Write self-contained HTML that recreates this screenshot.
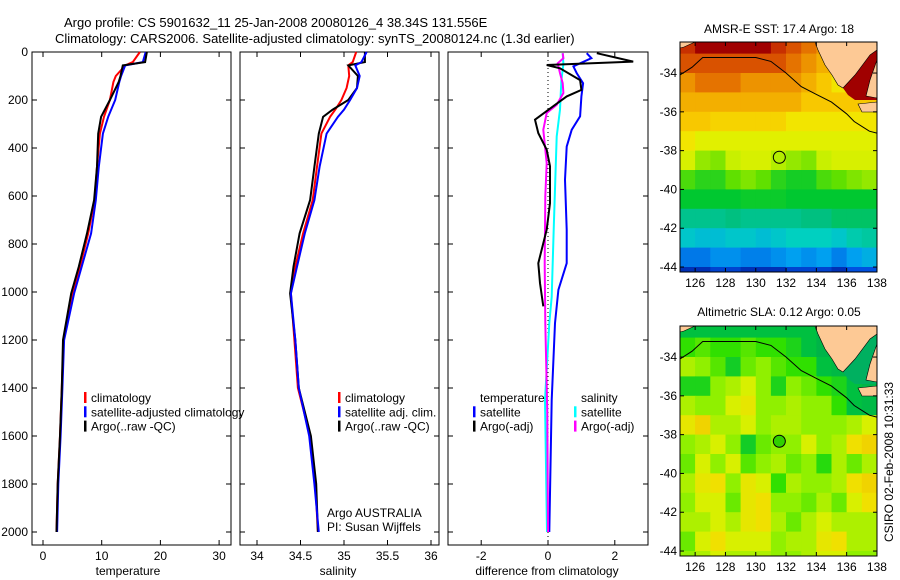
<!DOCTYPE html>
<html><head><meta charset="utf-8"><style>
body{margin:0;background:#fff;}
svg{display:block;font-family:"Liberation Sans",sans-serif;}
text{fill:#000;}
</style></head><body>
<svg id="fig" width="900" height="580" viewBox="0 0 900 580" xmlns="http://www.w3.org/2000/svg">
<text x="64" y="27" font-size="13">Argo profile: CS 5901632_11 25-Jan-2008 20080126_4 38.34S 131.556E</text>
<text x="55" y="43" font-size="13">Climatology: CARS2006. Satellite-adjusted climatology: synTS_20080124.nc (1.3d earlier)</text>
<text x="779" y="33" font-size="12" text-anchor="middle">AMSR-E SST: 17.4 Argo: 18</text>
<text x="779" y="316" font-size="12" text-anchor="middle">Altimetric SLA: 0.12 Argo: 0.05</text>
<text x="0" y="0" font-size="12" text-anchor="middle" transform="translate(893,462) rotate(-90)">CSIRO 02-Feb-2008 10:31:33</text>
<g id="plots"></g>
</svg>
<script>
// ---- data ----
const depthT = [0,42,56,100,125,200,270,340,478,617,756,894,1006,1200,1400,1600,1800,2000];
const tempClim = [16.5,15.3,14.0,12.4,12.0,11.4,10.4,9.7,9.2,8.8,7.7,6.3,5.1,3.5,3.2,2.9,2.5,2.3];
const tempSat  = [17.5,17.0,14.0,13.3,13.0,12.3,11.1,10.2,9.5,9.0,8.2,6.6,5.3,3.6,3.3,3.0,2.6,2.4];
const tempArgo = [17.7,17.4,13.6,13.2,12.9,11.4,9.9,9.4,9.2,8.7,7.5,6.1,4.8,3.4,3.2,2.9,2.5,2.3];
const depthS = [0,42,56,100,150,200,240,270,340,478,617,756,894,1006,1200,1400,1600,1800,2000];
const salClim = [35.14,35.10,35.05,35.06,35.03,34.97,34.90,34.84,34.74,34.69,34.64,34.53,34.44,34.39,34.43,34.47,34.61,34.67,34.70];
const salSat  = [35.26,35.20,35.13,35.18,35.15,35.07,35.00,34.93,34.80,34.72,34.66,34.55,34.46,34.39,34.44,34.48,34.60,34.66,34.71];
const salArgo = [35.24,35.24,35.05,35.16,35.15,35.05,34.87,34.76,34.71,34.66,34.61,34.49,34.42,34.38,34.44,34.48,34.62,34.68,34.70];
const dTempSatDepth = [5,26,60,88,130,185,268,324,394,532,740,880,991,1130,1450,2000];
const dTempSat = [1.16,1.30,0.76,0.86,1.05,1.00,0.96,0.71,0.56,0.51,0.56,0.56,0.31,0.21,0.11,0.04];
const dTempArgoDepth = [5,40,54,68,117,158,185,226,282,338,407,476,630,740,880,963,1060];
const dTempArgo = [1.46,2.55,-0.04,0.36,0.96,1.00,0.56,0.16,-0.39,-0.29,-0.04,0.06,0.06,-0.04,-0.29,-0.24,-0.14];
const dSalSatDepth = [5,50,117,240,352,532,740,1020,1130,1450,2000];
const dSalSat = [0.44,0.46,0.40,0.36,0.26,0.22,0.17,0.11,0.04,-0.09,-0.03];
const dSalArgoDepth = [5,26,47,88,130,171,220,254,324,463,602,880,1130,1500,2000];
const dSalArgo = [0.44,0.46,0.29,0.36,0.44,0.46,0.26,-0.04,-0.14,-0.04,-0.08,-0.10,-0.08,-0.02,0.0];
const depthTicks = [0,200,400,600,800,1000,1200,1400,1600,1800,2000];
const tempTicks = [0,10,20,30];
const salTicks = [34,34.5,35,35.5,36];
const salTickLabels = ["34","34.5","35","35.5","36"];
const diffTicks = [-2,0,2];
const mapLon = [125.5,126.5,127.5,128.5,129.5,130.5,131.5,132.5,133.5,134.5,135.5,136.5,137.5];
const mapLat = [-32.5,-33.5,-34.5,-35.5,-36.5,-37.5,-38.5,-39.5,-40.5,-41.5,-42.5,-43.5,-44.5];
const sstGrid = [
[21.5,22,22,22,22,22,21.5,21,20.5,20,20,22,22],
[21,21,21,21,21,21,21,20.5,20,19.5,19,22,22],
[20,20.5,20.5,20.5,20,20,20,20,19.5,19,18.5,22,21],
[19.5,19.5,19.5,19.5,19.5,19.5,19.5,19.5,19,19,19,19,19],
[19,19,18.8,18.8,18.8,18.8,18.8,18.5,18.5,18.5,18.5,18.5,18.5],
[18.5,18,18,18,18,18,18,18,18,18,18,18,18],
[17.8,17,16.8,17.5,17.8,17.8,17.3,17,16.8,17.5,17.8,17.8,17.8],
[16.3,16,16,16.5,16.8,16.5,16,15.8,15.8,16.3,16.5,16.8,17],
[15.6,15.6,15.6,15.6,15.7,15.7,15.7,15.6,15.6,15.6,15.6,15.6,15.6],
[14.8,14.8,14.8,15,14.8,14.8,14.8,14.8,15,15,15.2,15.2,15.2],
[13.8,13.6,13.6,13.8,13.8,13.6,13.8,14,14,14,13.8,14.3,14.5],
[12.5,12.5,12.8,12.8,12.6,12.6,12.8,13,12.8,13,12.6,13,13.3],
[11.5,11.5,11.8,11.8,11.5,11.5,11.5,11.8,11.8,11.8,11.5,12,12]];
const slaGrid = [
[0,0,0,0,0,0,0,0,0,-0.05,-0.05,-0.1,-0.1],
[0.05,0.07,0.05,0.05,0.07,0.05,0.05,0.03,0,-0.05,-0.05,-0.1,-0.1],
[0.12,0.1,0.07,0.02,0.08,0.1,0.07,0.05,0.05,0,-0.03,-0.05,-0.1],
[0.03,0.03,0.1,0.12,0.15,0.1,0.03,0.1,0.08,0.05,0.03,0,-0.05],
[0.12,0.1,0.1,0.15,0.18,0.1,0.1,0.12,0.1,0.1,0.05,0,-0.03],
[0.18,0.22,0.12,0.12,0.15,0.1,0.12,0.12,0.1,0.1,0.1,0.12,0.15],
[0.1,0.12,0.15,0.1,0.02,0.08,0.1,0.1,0.15,0.1,0.12,0.2,0.22],
[0.08,0.15,0.1,0.15,0.07,0.1,0.12,0.08,0.1,0.04,0.12,0.08,0.12],
[0.12,0.18,0.2,0.1,0.18,0.15,0.05,0.12,0.1,0.1,0.12,0.2,0.22],
[0.1,0.15,0.15,0.08,0.18,0.2,0.1,0.1,0.08,0.12,0.08,0.15,0.2],
[0.12,0.12,0.15,0.12,0.18,0.2,0.12,0.08,0.12,0.15,0.12,0.12,0.12],
[0.08,0.15,0.2,0.15,0.15,0.15,0.1,0.12,0.12,0.18,0.2,0.12,0.12],
[0.1,0.12,0.15,0.12,0.12,0.12,0.1,0.1,0.12,0.15,0.15,0.1,0.1]];
const argoLon = 131.556, argoLat = -38.34;

const NS="http://www.w3.org/2000/svg";
const root=document.getElementById('plots');
function mk(tag,attrs,parent){const e=document.createElementNS(NS,tag);for(const k in attrs)e.setAttribute(k,attrs[k]);(parent||root).appendChild(e);return e;}
function txt(s,attrs,parent){const e=mk('text',attrs,parent);e.textContent=s;return e;}

const PT=52, PB=545;
const yD = d => PT + d*0.24;
function panel(name,x0,x1,xs,ticks,labels,xlabel,xlabelX,showY){
  const g=mk('g',{});
  
  
  const box=mk('rect',{x:x0,y:PT,width:x1-x0,height:PB-PT,fill:'none',stroke:'#000','stroke-width':1},g);
  
  
  depthTicks.forEach(d=>{
    const y=yD(d);
    mk('line',{x1:x0,x2:x0+5,y1:y,y2:y,stroke:'#000'},g);
    mk('line',{x1:x1-5,x2:x1,y1:y,y2:y,stroke:'#000'},g);
    if(showY){const t=txt(String(d),{x:x0-4,y:y+4,'font-size':12,'text-anchor':'end'},g);
      
      }
  });
  ticks.forEach((v,i)=>{
    const x=xs(v);
    mk('line',{x1:x,x2:x,y1:PB,y2:PB-5,stroke:'#000'},g);
    mk('line',{x1:x,x2:x,y1:PT,y2:PT+5,stroke:'#000'},g);
    const t=txt(labels[i],{x:x,y:PB+15,'font-size':12,'text-anchor':'middle'},g);
    
    
  });
  const xl=txt(xlabel,{x:xlabelX,y:PB+30,'font-size':12,'text-anchor':'middle'},g);
  
  
  return g;
}
function line(g,xs,vals,depths,color,name){
  const pts=vals.map((v,i)=>xs(v).toFixed(1)+','+yD(depths[i]).toFixed(1)).join(' ');
  const p=mk('polyline',{points:pts,fill:'none',stroke:color,'stroke-width':2,'stroke-linejoin':'miter'},g);
  
  
}
function legend(g,x,y,items){
  items.forEach((it,i)=>{
    const yy=y+i*14.3;
    if(it[1]) mk('rect',{x:x,y:yy-10,width:2.5,height:11,fill:it[1]},g);
    const t=txt(it[0],{x:x+7,y:yy,'font-size':12},g);
    
    
  });
}
// panel 1
const xT=v=>43+5.87*v;
const g1=panel('temperature-panel',32,231,xT,tempTicks,tempTicks.map(String),'temperature',128,true);
line(g1,xT,tempClim,depthT,'#ff0000','temp-climatology-line');
line(g1,xT,tempSat,depthT,'#0000ff','temp-satellite-line');
line(g1,xT,tempArgo,depthT,'#000000','temp-argo-line');
legend(g1,84,402,[['climatology','#ff0000'],['satellite-adjusted climatology','#0000ff'],['Argo(..raw -QC)','#000']]);
// panel 2
const xS=v=>257+87*(v-34);
const g2=panel('salinity-panel',240,439,xS,salTicks,salTickLabels,'salinity',338,false);
line(g2,xS,salClim,depthS,'#ff0000','sal-climatology-line');
line(g2,xS,salArgo,depthS,'#000000','sal-argo-line');
line(g2,xS,salSat,depthS,'#0000ff','sal-satellite-line');
legend(g2,338,402,[['climatology','#ff0000'],['satellite adj. clim.','#0000ff'],['Argo(..raw -QC)','#000']]);
const a1=txt('Argo AUSTRALIA',{x:327,y:517,'font-size':12},g2);


const a2=txt('PI: Susan Wijffels',{x:327,y:531,'font-size':12},g2);


// panel 3
const xDf=v=>548+33.4*v;
const g3=panel('difference-panel',448,648,xDf,diffTicks,diffTicks.map(String),'difference from climatology',547,false);
mk('line',{x1:xDf(0),x2:xDf(0),y1:PT,y2:PB,stroke:'#000','stroke-dasharray':'1,3'},g3);
line(g3,xDf,dTempSat,dTempSatDepth,'#0000ff','diff-temp-satellite-line');
line(g3,xDf,dSalSat,dSalSatDepth,'#00ffff','diff-sal-satellite-line');
line(g3,xDf,dSalArgo,dSalArgoDepth,'#ff00ff','diff-sal-argo-line');
line(g3,xDf,dTempArgo,dTempArgoDepth,'#000000','diff-temp-argo-line');
legend(g3,473,402,[['temperature',null],['satellite','#0000ff'],['Argo(-adj)','#000']]);
legend(g3,574,402,[['salinity',null],['satellite','#00ffff'],['Argo(-adj)','#ff00ff']]);

// maps
function hex(c){return [parseInt(c.slice(1,3),16),parseInt(c.slice(3,5),16),parseInt(c.slice(5,7),16)];}
function cmap(stops,v){
  if(v<=stops[0][0])return stops[0][1];
  for(let i=1;i<stops.length;i++){if(v<=stops[i][0]){const a=hex(stops[i-1][1]),b=hex(stops[i][1]);const t=(v-stops[i-1][0])/(stops[i][0]-stops[i-1][0]);
    return 'rgb('+a.map((x,k)=>Math.round(x+(b[k]-x)*t)).join(',')+')';}}
  return stops[stops.length-1][1];
}
const sstStops=[[11,'#00108a'],[12,'#0050e0'],[13,'#00a0f0'],[14,'#00d0c0'],[15,'#00c080'],[15.6,'#00c830'],[16.5,'#60e000'],[17.5,'#c8f000'],[18.3,'#f0f000'],[19,'#f8c800'],[19.8,'#f0a000'],[20.8,'#e06000'],[21.5,'#c83000'],[22,'#a00000']];
const slaStops=[[-0.1,'#00a850'],[0,'#00c040'],[0.05,'#30e000'],[0.1,'#90f000'],[0.15,'#d8f000'],[0.2,'#f0e000'],[0.25,'#f0c000']];
const MX0=680,MX1=877,MH=230;
const lonX=lon=>MX0+(lon-125)*15.15;
function drawMap(name,top,grid,stops,gulf,circFill){
  const g=mk('g',{});
  
  
  const latY=lat=>top+(-32.4-lat)*19.4;
  const cid='clip'+top;
  const cp=mk('clipPath',{id:cid},g);mk('rect',{x:MX0,y:top,width:MX1-MX0,height:MH},cp);
  const cg=mk('g',{'clip-path':'url(#'+cid+')'},g);
  grid.forEach((row,r)=>row.forEach((v,c)=>{
    const x=lonX(mapLon[c]-0.5),y=latY(mapLat[r]+0.5);
    const cell=mk('rect',{x:x.toFixed(1),y:y.toFixed(1),width:15.6,height:19.9,fill:cmap(stops,v)},cg);
    
    
  }));
  const P=a=>a.map(p=>p[0]+','+(p[1]-42+top)).join(' ');
  mk('polygon',{points:P([[843,88],[855,75],[870,55],[877,50],[877,100],[855,100],[848,95]]),fill:gulf},cg);
  const land='#fdc995';
  [[[815,42],[877,42],[877,50],[870,55],[855,75],[843,88],[838,85],[832,75],[825,65],[818,50]],
   [[877,60],[877,98],[866,96],[870,80]],
   [[858,104],[877,102],[877,112],[862,112]],
   [[680,42],[695,42],[684,47],[680,48]]].forEach(pl=>{
     const l=mk('polygon',{points:P(pl),fill:land,stroke:'#000','stroke-width':0.6},cg);
     
     
  });
  const shelf=[[125,-34.1],[125.8,-33.7],[126.5,-33.2],[130,-33.2],[131,-33.4],[132,-34],[133,-34.7],[134,-35.1],[135,-35.5],[136,-36.1],[136.5,-36.5],[137.5,-37],[138,-37.1]];
  const sl=mk('polyline',{points:shelf.map(p=>lonX(p[0]).toFixed(1)+','+latY(p[1]).toFixed(1)).join(' '),fill:'none',stroke:'#000','stroke-width':1},cg);
  
  
  const ci=mk('circle',{cx:lonX(argoLon),cy:latY(argoLat),r:6,fill:circFill,stroke:'#000','stroke-width':1},g);
  
  
  mk('rect',{x:MX0,y:top,width:MX1-MX0,height:MH,fill:'none',stroke:'#000'},g);
  [126,128,130,132,134,136,138].forEach(lon=>{
    const x=lonX(lon);
    mk('line',{x1:x,x2:x,y1:top+MH,y2:top+MH-4,stroke:'#000'},g);
    mk('line',{x1:x,x2:x,y1:top,y2:top+4,stroke:'#000'},g);
    const t=txt(String(lon),{x:x,y:top+MH+15,'font-size':12,'text-anchor':'middle'},g);
    
    
  });
  [-34,-36,-38,-40,-42,-44].forEach(lat=>{
    const y=latY(lat);
    mk('line',{x1:MX0,x2:MX0+4,y1:y,y2:y,stroke:'#000'},g);
    mk('line',{x1:MX1-4,x2:MX1,y1:y,y2:y,stroke:'#000'},g);
    const t=txt(String(lat),{x:MX0-3,y:y+4,'font-size':12,'text-anchor':'end'},g);
    
    
  });
}
drawMap('sst-map',42,sstGrid,sstStops,'#a00000','none');
drawMap('sla-map',326,slaGrid,slaStops,'#00b060','#30d000');
</script>
</body></html>
